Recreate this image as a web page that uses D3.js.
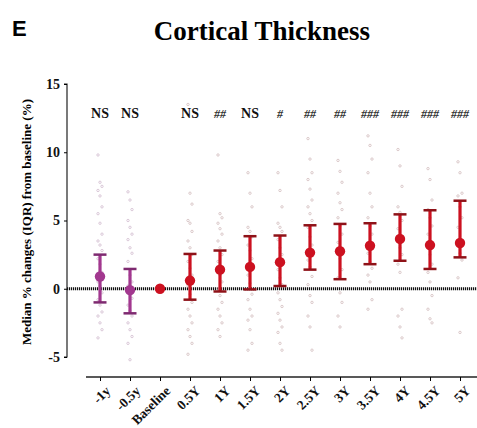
<!DOCTYPE html>
<html>
<head>
<meta charset="utf-8">
<script src="https://cdn.jsdelivr.net/npm/d3@7"></script>
<style>
  body { margin: 0; background: #fff; }
  svg { display: block; }
  text { font-family: "Liberation Serif", "Times New Roman", serif; }
</style>
</head>
<body>
<svg class="main" width="477" height="428"></svg>
<script>
var categories = ["-1y", "-0.5y", "Baseline", "0.5Y", "1Y", "1.5Y", "2Y", "2.5Y", "3Y", "3.5Y", "4Y", "4.5Y", "5Y"];
var medians = [0.9, -0.1, 0, 0.6, 1.4, 1.6, 1.95, 2.65, 2.75, 3.15, 3.65, 3.2, 3.35];
var q1 = [-1.0, -1.8, null, -0.8, -0.2, -0.05, 0.2, 1.4, 0.7, 1.8, 2.05, 1.45, 2.3];
var q3 = [2.5, 1.45, null, 2.55, 2.8, 3.85, 3.9, 4.65, 4.75, 4.8, 5.45, 5.75, 6.45];
var signif = ["NS", "NS", "", "NS", "##", "NS", "#", "##", "##", "###", "###", "###", "###"];
var yTicks = [15, 10, 5, 0, -5];

// individual subjects
var points = [
    [9.8, 7.8, 7.5, 7.2, 6.8, 6.0, 5.5, 4.8, 4.0, 3.5, 3.2, 2.8, 2.2, 1.8, 1.2, 0.5, 0.2, -0.3, -0.8, -1.2, -1.7, -2.0, -2.5, -3.0, -3.6],
    [7.1, 6.5, 5.8, 5.0, 4.5, 4.0, 3.6, 3.0, 2.6, 2.0, 1.0, 0.5, 0.2, -0.3, -0.7, -1.2, -1.6, -2.0, -2.5, -3.0, -3.5, -4.0, -5.2],
    [],
    [13.5, 7.0, 6.2, 5.0, 4.8, 4.2, 3.5, 3.0, 2.5, 2.0, 1.5, 1.0, 0.2, -0.4, -1.0, -1.5, -2.0, -2.5, -3.0, -3.5, -4.0, -4.8],
    [9.8, 5.5, 5.2, 4.8, 4.4, 4.0, 3.5, 3.0, 2.5, 2.0, 1.0, 0.5, 0, -0.5, -1.0, -1.5, -2.0, -2.5, -3.0, -3.5],
    [8.5, 7.0, 6.0, 4.5, 4.2, 3.8, 3.2, 2.8, 2.2, 1.0, 0.4, -0.4, -0.8, -1.5, -2.0, -2.3, -3.0, -4.0, -4.5],
    [8.5, 7.2, 6.0, 4.8, 4.5, 4.2, 3.6, 3.0, 2.5, 1.4, 0.8, 0.3, -0.3, -0.8, -1.3, -1.8, -2.3, -2.8, -3.2, -4.0, -4.5],
    [11, 9.5, 8.5, 8, 7.3, 6.5, 6.0, 5.5, 5.0, 4.5, 3.8, 3.2, 2.1, 1.6, 0.9, 0.3, -0.5, -1.0, -2.0, -2.8, -4.5],
    [9.4, 8.6, 7.8, 7.0, 6.3, 5.8, 5.2, 4.6, 4.0, 3.4, 2.2, 1.4, 0.8, -0.3, -1.0, -2.0, -2.8],
    [11.2, 10.5, 9.5, 8.5, 7.0, 6.0, 5.2, 4.6, 4.0, 2.6, 2.0, 1.5, 1.0, 0.5, -0.8, -1.5],
    [10.2, 9.0, 7.5, 6.0, 5.6, 5.0, 4.4, 3.0, 2.5, 1.8, 1.2, -1.5, -2.0, -2.8, -3.6],
    [8.8, 8.0, 6.5, 5.8, 5.2, 4.6, 4.0, 2.5, 1.8, 1.2, 0.5, -0.5, -1.5, -2.2, -2.5],
    [9.3, 8.5, 7.0, 6.8, 6.0, 5.2, 4.5, 2.6, 2.1, 0.8, -3.2]
];

var svg = d3.select(".main");
var purple = "#a2388f",
    red = "#cc1120",
    darkRed = "#8e1218";

var x = d3.scalePoint().domain(categories).range([100, 460]);
var y = d3.scaleLinear().domain([-5, 15]).range([357, 84]);

// panel letter and title
svg.append("text")
    .attr("x", 12).attr("y", 36)
    .style("font-family", "'Liberation Sans', Arial, sans-serif")
    .style("font-weight", "bold")
    .style("font-size", "22px")
    .text("E");

svg.append("text")
    .attr("x", 262).attr("y", 40)
    .attr("text-anchor", "middle")
    .style("font-weight", "bold")
    .style("font-size", "27px")
    .text("Cortical Thickness");

// y axis
var yAxis = svg.append("g")
    .attr("transform", "translate(67,0)")
    .call(d3.axisLeft(y).tickValues(yTicks).tickFormat(String).tickSize(3).tickPadding(4));
yAxis.select(".domain").attr("stroke", "#222").attr("stroke-width", 1.2)
    .attr("d", "M-3," + y(15) + "H0V" + y(-5) + "H-3");
yAxis.selectAll("text")
    .style("font-family", "'Liberation Serif', serif")
    .style("font-weight", "bold")
    .style("font-size", "14px")
    .attr("fill", "#111");

svg.append("text")
    .attr("transform", "translate(31,222) rotate(-90)")
    .attr("text-anchor", "middle")
    .style("font-weight", "bold")
    .style("font-size", "13px")
    .text("Median % changes (IQR) from baseline (%)");

// x axis
var xAxis = svg.append("g")
    .attr("transform", "translate(0,377)")
    .call(d3.axisBottom(x).tickSize(4).tickPadding(4));
xAxis.select(".domain").attr("stroke", "#222").attr("stroke-width", 1.5)
    .attr("d", "M86,0H477");
xAxis.selectAll("text")
    .style("font-family", "'Liberation Serif', serif")
    .style("font-weight", "bold")
    .style("font-size", "13.5px")
    .attr("fill", "#111")
    .attr("text-anchor", "end")
    .attr("dx", 0).attr("dy", 0)
    .attr("transform", "translate(5,9) rotate(-45)");

// zero line
svg.append("line")
    .attr("x1", 67).attr("x2", 477)
    .attr("y1", y(0)).attr("y2", y(0))
    .attr("stroke", "#111")
    .attr("stroke-width", 3)
    .attr("stroke-dasharray", "1.2,0.8");

// scatter of individual values
categories.forEach(function(c, i) {
    svg.append("g").selectAll("circle")
        .data(points[i])
        .enter()
        .append("circle")
        .attr("cx", function(d, j) { return x(c) + ((j % 3) - 1) * 2; })
        .attr("cy", function(d) { return y(d); })
        .attr("r", 1.2)
        .attr("fill", "none")
        .attr("stroke", i < 2 ? "#cbb3c8" : "#cdb5b6")
        .attr("stroke-width", 0.7);
});

// IQR bars
var bars = categories.map(function(c, i) {
    return { cat: c, med: medians[i], lo: q1[i], hi: q3[i], col: i < 2 ? purple : red };
});

var g = svg.append("g");
bars.filter(function(d) { return d.lo !== null; }).forEach(function(d) {
    var cx = x(d.cat);
    g.append("line")
        .attr("x1", cx).attr("x2", cx)
        .attr("y1", y(d.lo)).attr("y2", y(d.hi))
        .attr("stroke", d.col).attr("stroke-width", 3.2);
    [d.lo, d.hi].forEach(function(v) {
        g.append("line")
            .attr("x1", cx - 6.5).attr("x2", cx + 6.5)
            .attr("y1", y(v)).attr("y2", y(v))
            .attr("stroke", d.col === red ? darkRed : "#7e2a70")
            .attr("stroke-width", 2.5);
    });
});

g.selectAll(".med")
    .data(bars)
    .enter()
    .append("circle")
    .attr("class", "med")
    .attr("cx", function(d) { return x(d.cat); })
    .attr("cy", function(d) { return y(d.med); })
    .attr("r", 5.2)
    .attr("fill", function(d) { return d.col; });

// significance labels
svg.append("g").selectAll("text")
    .data(categories)
    .enter()
    .append("text")
    .attr("x", function(d) { return x(d); })
    .attr("y", 118)
    .attr("text-anchor", "middle")
    .style("font-weight", "bold")
    .style("font-style", function(d, i) { return signif[i] === "NS" ? "normal" : "italic"; })
    .style("font-size", function(d, i) { return signif[i] === "NS" ? "14px" : "12px"; })
    .attr("fill", function(d, i) { return signif[i] === "NS" ? "#111" : "#333"; })
    .text(function(d, i) { return signif[i]; });
</script>
</body>
</html>
